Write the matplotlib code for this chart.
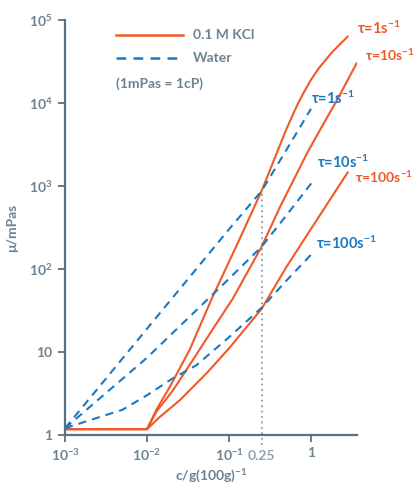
import matplotlib
matplotlib.use("Agg")
import matplotlib.pyplot as plt

plt.rcParams["font.family"] = ["Lato", "DejaVu Sans"]
plt.rcParams["font.weight"] = "bold"
plt.rcParams["mathtext.fontset"] = "custom"
plt.rcParams["mathtext.rm"] = "Lato:bold"
plt.rcParams["mathtext.it"] = "Lato:bold"
plt.rcParams["mathtext.bf"] = "Lato:bold"

ORANGE = "#ef5a28"
BLUE = "#1b78c2"
AXIS = "#5a7181"
TICK = "#6e8390"

# 0.1 M KCl
kcl_1_x = [0.001, 0.01, 0.013, 0.019, 0.033, 0.063, 0.125, 0.25, 0.35, 0.5, 0.6, 0.7, 0.8, 1.0, 1.25, 1.8, 2.8]
kcl_1_y = [1.17, 1.17, 2.0, 3.8, 10.5, 46, 195, 870, 2000, 4800, 7200, 10000, 12900, 19000, 26300, 40700, 63000]
kcl_10_x = [0.001, 0.01, 0.013, 0.021, 0.036, 0.063, 0.11, 0.25, 0.42, 0.9, 1.3, 2.1, 3.6]
kcl_10_y = [1.17, 1.17, 1.9, 3.5, 7.9, 18.6, 43, 185, 560, 2500, 4800, 11000, 30000]
kcl_100_x = [0.001, 0.01, 0.0145, 0.025, 0.054, 0.1, 0.25, 0.5, 1.7, 2.8]
kcl_100_y = [1.17, 1.17, 1.66, 2.6, 5.6, 11, 33, 105, 680, 1450]

# Water
w_1_x = [0.001, 0.01, 0.1, 0.25, 0.5, 1.0]
w_1_y = [1.2, 19, 300, 870, 2700, 8500]
w_10_x = [0.001, 0.01, 0.1, 0.25, 0.5, 1.1]
w_10_y = [1.2, 8.5, 76, 185, 440, 1200]
w_100_x = [0.001, 0.002, 0.005, 0.01, 0.02, 0.04, 0.1, 0.25, 0.5, 1.0]
w_100_y = [1.2, 1.5, 2.0, 3.0, 4.7, 6.9, 15, 34, 72, 148]

x_ticks = [0.001, 0.01, 0.1, 1]
x_tick_labels = ["$10^{-3}$", "$10^{-2}$", "$10^{-1}$", "1"]
y_ticks = [1, 10, 100, 1000, 10000, 100000]
y_tick_labels = ["1", "10", "$10^{2}$", "$10^{3}$", "$10^{4}$", "$10^{5}$"]
mark_x = 0.25
mark_y = 870

fig = plt.figure(figsize=(4.17, 4.88), dpi=100)
ax = fig.add_axes([0.156, 0.109, 0.70, 0.85])

dash = (3.9, 2.9)
ax.plot(kcl_1_x, kcl_1_y, color=ORANGE, lw=1.5)
ax.plot(kcl_10_x, kcl_10_y, color=ORANGE, lw=1.5)
ax.plot(kcl_100_x, kcl_100_y, color=ORANGE, lw=1.5)
ax.plot(w_1_x, w_1_y, color=BLUE, lw=1.5, dashes=dash)
ax.plot(w_10_x, w_10_y, color=BLUE, lw=1.5, dashes=dash)
ax.plot(w_100_x, w_100_y, color=BLUE, lw=1.5, dashes=dash)

ax.plot([mark_x, mark_x], [0.75, mark_y], color="#8b9ba7", lw=1.3,
        ls=(0, (1, 2)), clip_on=False, zorder=0)

ax.set_xscale("log")
ax.set_yscale("log")
ax.set_xlim(0.001, 3.64)
ax.set_ylim(1, 100000)
ax.minorticks_off()
ax.set_xticks(x_ticks)
ax.set_xticklabels(x_tick_labels)
ax.set_yticks(y_ticks)
ax.set_yticklabels(y_tick_labels)

for side in ["top", "right"]:
    ax.spines[side].set_visible(False)
for side in ["left", "bottom"]:
    ax.spines[side].set_color(AXIS)
    ax.spines[side].set_linewidth(1.6)
ax.tick_params(colors=AXIS, labelcolor=TICK, length=5, width=1.3, labelsize=10, pad=4)

ax.text(mark_x, -0.05, "0.25", transform=ax.get_xaxis_transform(),
        ha="center", va="center", color="#93a3ae", fontsize=10, fontweight="bold")

ax.set_xlabel("c/g(100g)$^{-1}$", color=TICK, fontsize=10, fontweight="bold", labelpad=3)
ax.set_ylabel("μ/mPas", color=TICK, fontsize=10, fontweight="bold", labelpad=8)

# legend
ax.plot([0.0042, 0.0275], [10**4.82, 10**4.82], color=ORANGE, lw=1.8)
ax.plot([0.0042, 0.0275], [10**4.54, 10**4.54], color=BLUE, lw=1.8, dashes=(3.9, 2.9))
ax.text(0.036, 10**4.82, "0.1 M KCl", color=TICK, fontsize=10, va="center", fontweight="bold")
ax.text(0.036, 10**4.54, "Water", color=TICK, fontsize=10, va="center", fontweight="bold")
ax.text(0.0042, 10**4.23, "(1mPas = 1cP)", color=TICK, fontsize=10, va="center", fontweight="bold")

# curve labels
lab = dict(fontweight="bold", va="center", ha="left")
ax.text(3.6, 10**4.90, r"$\tau$=1s$^{-1}$", color=ORANGE, fontsize=10.5, clip_on=False, **lab)
ax.text(4.5, 10**4.58, r"$\tau$=10s$^{-1}$", color=ORANGE, fontsize=10, clip_on=False, **lab)
ax.text(3.45, 10**3.11, r"$\tau$=100s$^{-1}$", color=ORANGE, fontsize=10, clip_on=False, **lab)
ax.text(1.0, 10**4.06, r"$\tau$=1s$^{-1}$", color=BLUE, fontsize=10.5, **lab)
ax.text(1.19, 10**3.28, r"$\tau$=10s$^{-1}$", color=BLUE, fontsize=10.5, **lab)
ax.text(1.15, 10**2.31, r"$\tau$=100s$^{-1}$", color=BLUE, fontsize=10.5, **lab)

fig.savefig("out.png", dpi=100)
